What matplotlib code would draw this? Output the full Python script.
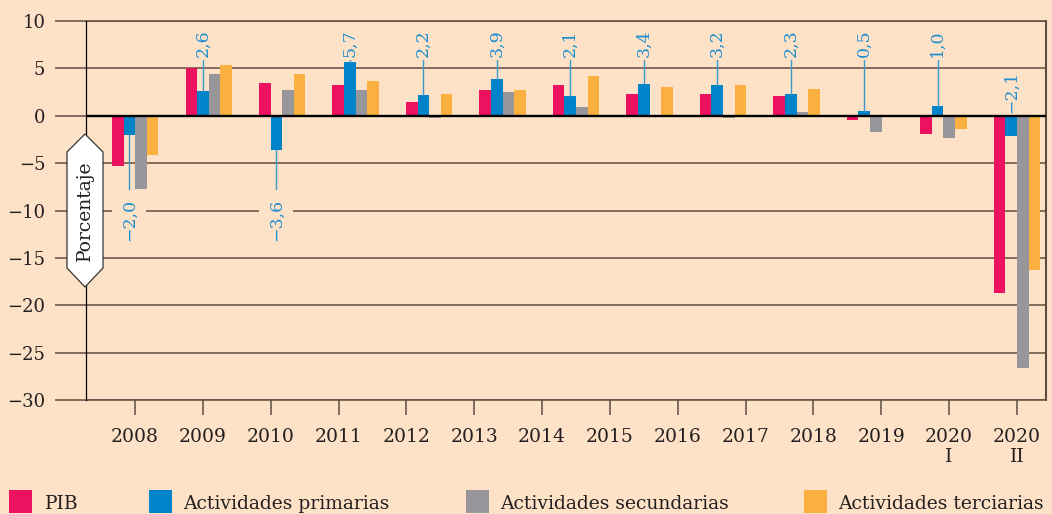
import numpy as np
import matplotlib.pyplot as plt
from matplotlib.patches import Polygon, Rectangle

plt.rcParams['font.family'] = ['DejaVu Serif']
plt.rcParams['axes.unicode_minus'] = True

# data (variacion anual, porcentaje)
years = ['2008', '2009', '2010', '2011', '2012', '2013', '2014', '2015',
         '2016', '2017', '2018', '2019', '2020\nI', '2020\nII']
pib = [-5.3, 5.0, 3.5, 3.2, 1.5, 2.7, 3.2, 2.3, 2.3, 2.1, -0.5, -1.9, -18.7]
primarias = [-2.0, 2.6, -3.6, 5.7, 2.2, 3.9, 2.1, 3.4, 3.2, 2.3, 0.5, 1.0, -2.1]
secundarias = [-7.7, 4.4, 2.7, 2.7, -0.2, 2.5, 0.9, 0.1, -0.2, 0.4, -1.7, -2.4, -26.6]
terciarias = [-4.1, 5.4, 4.4, 3.7, 2.3, 2.7, 4.2, 3.0, 3.2, 2.8, 0.1, -1.4, -16.3]

names = ['PIB', 'Actividades primarias', 'Actividades secundarias', 'Actividades terciarias']
colors = ['#ed1260', '#0083c9', '#97979b', '#fcb040']

bg = '#fde2c7'
gc = '#5e4e42'
txt = '#231f20'
blue_txt = '#1f8ed0'

W, H = 1052, 514
fig = plt.figure(figsize=(W / 100, H / 100), dpi=100, facecolor=bg)
ax = fig.add_axes([86 / W, 1 - 400 / H, (1046 - 86) / W, (400 - 21) / H])
ax.set_facecolor(bg)

x = np.arange(len(pib))
w = 0.157
series = [pib, primarias, secundarias, terciarias]
for k, (vals, c) in enumerate(zip(series, colors)):
    ax.bar(x + (k - 1.5) * w, vals, width=w, color=c, zorder=2, linewidth=0)

ax.axhline(0, color='black', lw=1.7, zorder=4)

# value labels for primary activities
for i, v in enumerate(primarias):
    xi = x[i] - 0.5 * w
    s = ('%.1f' % v).replace('.', ',').replace('-', '\u2212')
    pad = 1.5
    if i == len(primarias) - 1:
        # last group: label sits just above the zero line
        yt, va = 0.3, 'bottom'
        pad = 0.5
    elif v < 0:
        ax.plot([xi, xi], [v, -8.2], color='#3d98cc', lw=1, zorder=3)
        yt, va = -8.75, 'top'
        pad = 6
    else:
        ax.plot([xi, xi], [v, 5.9], color='#3d98cc', lw=1, zorder=3)
        yt, va = 6.15, 'bottom'
    ax.text(xi, yt, s, rotation=90, ha='center', va=va, fontsize=12.5,
            color=blue_txt, zorder=5,
            bbox=dict(facecolor=bg, edgecolor='none', pad=pad))

ax.set_xlim(-0.668, 12.395)
ax.set_ylim(-30, 10)
ax.set_yticks(range(-30, 11, 5))
ax.set_xticks(np.linspace(0, 12, len(years)))
ax.set_xticklabels(years)
ax.set_axisbelow(True)
ax.yaxis.grid(True, color=gc, lw=1.1)

ax.tick_params(axis='y', length=22.3, width=1.1, color=gc, pad=7,
               labelsize=13, labelcolor=txt)
ax.tick_params(axis='x', length=10.8, width=1.1, color=gc, pad=9,
               labelsize=13.5, labelcolor=txt)

for side in ['top', 'bottom']:
    ax.spines[side].set_color(gc)
    ax.spines[side].set_linewidth(1.1)
ax.spines['right'].set_color(gc)
ax.spines['right'].set_linewidth(1.5)
ax.spines['left'].set_color('black')
ax.spines['left'].set_linewidth(0.9)
ax.spines['left'].set_zorder(3)

# y-axis label in a hexagon
hexa = [(85, 134), (103, 152), (103, 268), (85, 287), (67, 268), (67, 152)]
hexa = [(px / W, 1 - py / H) for px, py in hexa]
fig.add_artist(Polygon(hexa, closed=True, facecolor='white', edgecolor='#333333',
                       lw=0.9, transform=fig.transFigure, zorder=5))
fig.text(85 / W, 1 - 211 / H, 'Porcentaje', rotation=90, ha='center', va='center',
         fontsize=13.5, color=txt, zorder=6)

# legend
sq_left = [9, 149, 466, 804]
txt_left = [45, 183, 500, 838]
for name, c, sx, tx in zip(names, colors, sq_left, txt_left):
    fig.add_artist(Rectangle((sx / W, 1 - 513 / H), 23 / W, 23 / H,
                             facecolor=c, edgecolor='none', transform=fig.transFigure))
    fig.text(tx / W, 1 - 509 / H, name, ha='left', va='baseline',
             fontsize=13.5, color=txt)

fig.savefig('out.png', dpi=100, facecolor=bg)
